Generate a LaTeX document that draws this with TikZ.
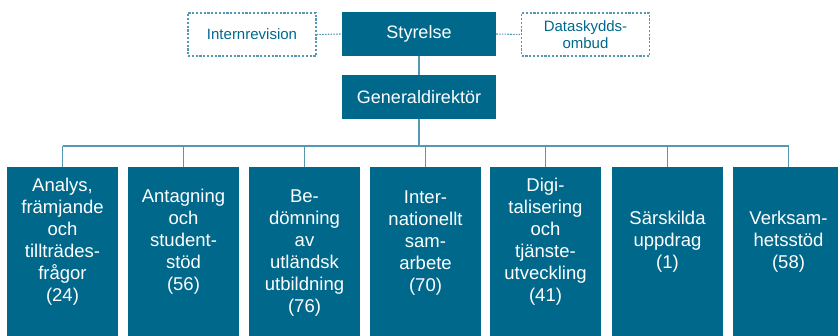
\documentclass[tikz,border=0pt]{standalone}
\usepackage{fontspec}
\setmainfont{Liberation Sans}
\usepackage{xcolor}
\usetikzlibrary{positioning}
\definecolor{uhr_teal}{RGB}{0, 104, 139}
\definecolor{uhr_line}{RGB}{84, 152, 180}

\begin{document}
\begin{tikzpicture}[x=1pt, y=1pt,
        topbox/.style={rectangle, minimum width=154pt, minimum height=44pt,
                       fill=uhr_teal, text=white, font=\fontsize{18}{22}\selectfont},
        sidebox/.style={rectangle, minimum width=128pt, minimum height=43pt,
                        draw=uhr_line, line width=1.2pt, dash pattern=on 2.2pt off 1.6pt,
                        text=uhr_teal, align=center, font=\fontsize{15}{17}\selectfont},
        unitbox/.style={rectangle, anchor=north, minimum width=111pt,
                        minimum height=200pt, fill=uhr_teal},
        unittext/.style={text=white, align=center, inner sep=0pt,
                         font=\fontsize{18.5}{22}\selectfont},
        conn/.style={uhr_line, line width=1.3pt},
        dconn/.style={uhr_line, line width=1.1pt, dash pattern=on 1.6pt off 1.2pt},
      ]
        \useasboundingbox (0,0) rectangle (838,335);
        \clip (0,0) rectangle (838,335);

        % top of the organisation
        \node[topbox] (styr) at (419, 301) {Styrelse};
        \node[topbox] (gd) at (419, 238) {Generaldirektör};
        \node[sidebox] (intern) at (252, 300.5) {Internrevision};
        \node[sidebox] (dpo) at (585.5, 300.5) {Dataskydds-\\ombud};

        \draw[dconn] (intern.east) -- (styr.west);
        \draw[dconn] (styr.east) -- (dpo.west);
        \draw[conn] (styr.south) -- (gd.north);

        % avdelningar
        \node[unitbox] (u1) at (62.5, 168) {};
        \node[unitbox] (u2) at (183.5, 168) {};
        \node[unitbox] (u3) at (304.5, 168) {};
        \node[unitbox] (u4) at (425.5, 168) {};
        \node[unitbox] (u5) at (545.5, 168) {};
        \node[unitbox] (u6) at (667.5, 168) {};
        \node[unitbox] (u7) at (788.5, 168) {};

        \node[unittext] (t1) at (62.5, 93)
          {Analys,\\främjande\\och\\tillträdes-\\frågor\\(24)};
        \node[unittext] (t2) at (183.5, 93)
          {Antagning\\och\\student-\\stöd\\(56)};
        \node[unittext] (t3) at (304.5, 82)
          {Be-\\dömning\\av\\utländsk\\utbildning\\(76)};
        \node[unittext] (t4) at (425.5, 92)
          {Inter-\\nationellt\\sam-\\arbete\\(70)};
        \node[unittext] (t5) at (545.5, 93)
          {Digi-\\talisering\\och\\tjänste-\\utveckling\\(41)};
        \node[unittext] (t6) at (667.5, 93)
          {Särskilda\\uppdrag\\(1)};
        \node[unittext] (t7) at (788.5, 93)
          {Verksam-\\hetsstöd\\(58)};

        % linjer
        \coordinate (bus) at (419, 189);
        \draw[conn] (gd.south) -- (bus);
        \draw[conn] (u1.north |- bus) -- (u7.north |- bus);
        \draw[conn] (u1.north) -- (u1.north |- bus);
        \draw[conn] (u2.north) -- (u2.north |- bus);
        \draw[conn] (u3.north) -- (u3.north |- bus);
        \draw[conn] (u4.north) -- (u4.north |- bus);
        \draw[conn] (u5.north) -- (u5.north |- bus);
        \draw[conn] (u6.north) -- (u6.north |- bus);
        \draw[conn] (u7.north) -- (u7.north |- bus);
      \end{tikzpicture}
\end{document}
